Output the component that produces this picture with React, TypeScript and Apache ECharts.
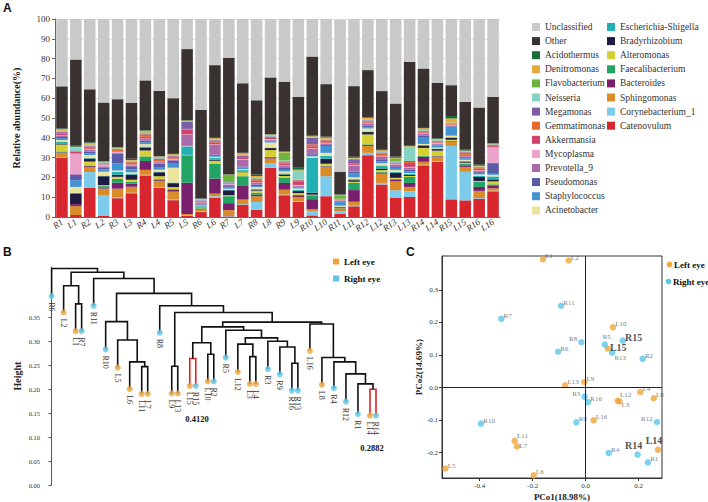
import React, { useEffect, useRef } from "react";
import * as echarts from "echarts";

const SERIF = "'Liberation Serif', 'Times New Roman', 'DejaVu Serif', serif";
const SANS = "'Liberation Sans', Arial, sans-serif";

// ---------------- Panel A data ----------------
const samples = ["R1","L1","R2","L2","R3","L3","R4","L4","R5","L5","R6","L6","R7","L7","R8","L8","R9","L9","R10","L10","R11","L11","R12","L12","R13","L13","R14","L14","R15","L15","R16","L16"];

const catenovulum = [30, 1, 14.7, 0.5, 9.5, 12, 21, 14.8, 8.5, 0.5, 2.5, 9.6, 0.3, 6.2, 3.7, 24.8, 11, 7.6, 0.8, 10.5, 1.7, 5.4, 31.2, 16.4, 9.6, 10.1, 26.1, 27.8, 8.9, 8.4, 9.3, 13];
const corynebacterium = [0.3, 0, 8, 10.3, 0.5, 0.3, 0.3, 0.3, 0.3, 0.2, 0.3, 0.9, 0.2, 0.3, 3.9, 2.2, 0.3, 0.3, 2.2, 10.1, 1.3, 0.3, 1.2, 0.8, 3.9, 2.9, 0.3, 0.3, 27, 14.4, 0.3, 0.3];
const sphingomonas = [2, 4.5, 2.5, 3.5, 4.3, 3, 2.5, 3, 4, 0.8, 0.8, 1.3, 3, 2.3, 2.9, 2.5, 2.5, 2.2, 1, 4.7, 0.5, 2, 3.5, 4.7, 4.5, 2.2, 1.5, 2.3, 2, 2.5, 3.6, 1.2];
const bacteroides = [0.3, 1, 0.5, 0.3, 3, 1.5, 4.5, 0.5, 1, 15.8, 0.3, 7.6, 3.5, 7.2, 0.8, 0.3, 3.4, 0.5, 5, 0.3, 0.3, 5.9, 0.5, 0.5, 0.8, 2, 2.5, 0.3, 0.3, 0.8, 2, 1.5];
const faecalibacterium = [0.5, 0, 0.3, 1, 2, 1, 2.3, 0.5, 0.3, 13.7, 0.5, 7.5, 3.5, 4.6, 1, 0.5, 2.5, 0.5, 2, 0.3, 0.3, 3.7, 0.3, 0.5, 0.5, 3, 0.5, 0.3, 0.3, 0.8, 2.5, 0.5];
const alteromonas = [3.5, 0, 2, 0.5, 1, 1, 3, 1.5, 1, 0.2, 0.5, 1.5, 0.5, 2, 1, 3.5, 1, 1, 0.3, 1, 0.3, 0.5, 5, 0.8, 0.5, 0.5, 4, 2.5, 0.5, 0.5, 0.5, 1.5];
const bradyrhizobium = [0.5, 5.4, 1.5, 4.5, 1, 2.5, 1.5, 2, 2, 0.2, 0.3, 0.5, 2.5, 0.3, 0.5, 1, 0.8, 1, 1, 2.5, 0.5, 0.8, 1.2, 0.8, 2.5, 0.5, 1, 0.8, 1, 0.5, 2, 1];
const escherichia = [1, 0.3, 0.3, 0.3, 1.5, 0.5, 0.5, 0.3, 0.3, 4, 0.3, 1, 0.3, 0.8, 0.5, 0.3, 0.5, 0.5, 17.5, 1.5, 0.3, 0.5, 0.3, 1.5, 0.5, 0.5, 0.5, 0.3, 0.3, 0.5, 0.5, 1.5];
const acinetobacter = [0.8, 3, 1.5, 2, 0.7, 0.8, 1.2, 1, 7.5, 0.2, 0.3, 0.5, 0.5, 0.5, 0.8, 2.5, 1, 0.8, 0.8, 1.5, 0.5, 1, 1.5, 1.2, 1, 0.5, 0.5, 0.5, 0.8, 0.5, 0.8, 0.8];
const staphylococcus = [1, 3.4, 0.8, 1.2, 3.5, 1.5, 1, 1, 2, 0.2, 0.5, 0.5, 0.5, 0.8, 0.5, 0.5, 0.8, 0.5, 0.8, 3.5, 2, 2, 0.5, 0.8, 1, 0.8, 3.5, 1, 4.5, 0.8, 0.8, 0.5];
const pseudomonas = [0.5, 2.8, 1, 1, 5, 1.5, 0.8, 2, 1.5, 0.2, 0.5, 0.5, 0.8, 0.5, 0.8, 0.5, 1, 0.5, 0.5, 0.5, 0.3, 0.8, 1, 0.8, 0.8, 1, 0.8, 0.5, 0.3, 0.5, 0.5, 5.4];
const prevotella = [0.5, 0.3, 0.8, 0.5, 0.5, 0.5, 0.8, 0.8, 0.5, 5.5, 0.3, 5, 0.8, 3.5, 0.8, 0.5, 1, 0.5, 2.5, 0.5, 0.2, 3, 0.8, 1.5, 0.8, 1, 0.8, 0.5, 0.3, 0.5, 0.5, 0.3];
const mycoplasma = [0.3, 10.3, 0.3, 1, 0.3, 0.3, 0.3, 0.3, 0.3, 0.2, 0.2, 0.3, 0.3, 0.3, 0.3, 0.3, 0.3, 0.3, 0.3, 0.3, 0.2, 0.3, 0.3, 0.3, 0.3, 0.3, 0.3, 0.3, 0.2, 0.2, 0.3, 7.8];
const akkermansia = [0.8, 1, 0.5, 0.3, 0.3, 0.3, 0.8, 0.3, 0.3, 2.5, 0.5, 1, 0.3, 0.5, 0.8, 0.5, 1, 1.5, 1, 0.5, 0.2, 0.5, 0.5, 0.5, 0.3, 2, 0.5, 0.3, 0.3, 0.5, 0.8, 0.5];
const gemmatimonas = [0.5, 0.3, 0.8, 0.2, 1, 1, 1.2, 1, 1, 0.3, 0.3, 0.8, 0.2, 0.5, 0.5, 0.5, 0.5, 0.8, 1, 1, 0.2, 0.5, 0.5, 1, 0.3, 0.5, 0.5, 0.5, 0.5, 1.2, 0.5, 0.5];
const megamonas = [0.5, 0, 0.3, 0.2, 0.3, 0.3, 0.5, 0.3, 0.3, 3.6, 0.3, 0.3, 0.3, 0.5, 0.5, 0.3, 0.5, 0.3, 3.3, 0.3, 0.2, 2, 0.5, 0.5, 0.3, 0.5, 0.3, 0.3, 0.2, 0.2, 0.3, 0.2];
const neisseria = [0.3, 1.9, 0.5, 0.3, 0.2, 0.3, 0.3, 0.3, 0.2, 0.2, 0.2, 0.3, 0.2, 0.3, 0.3, 0.3, 0.5, 4.5, 0.3, 0.3, 0.2, 0.2, 0.3, 0.3, 0.5, 7, 0.2, 0.3, 0.2, 0.2, 0.2, 0.2];
const flavobacterium = [0.3, 0, 0.3, 0.2, 0.2, 0.2, 0.3, 0.2, 0.2, 0.2, 0.2, 0.2, 3.5, 0.3, 0.3, 0.2, 4, 0.3, 0.2, 0.3, 1.8, 0.2, 0.2, 0.3, 1.5, 0.3, 0.2, 0.2, 0.2, 0.2, 0.2, 0.2];
const denitromonas = [0.8, 0.3, 0.8, 0.2, 0.3, 0.3, 0.8, 0.5, 0.5, 0.2, 0.3, 0.5, 0.2, 0.8, 0.8, 0.5, 0.3, 0.3, 0.3, 0.5, 0.2, 0.3, 0.8, 0.5, 0.3, 0.2, 0.8, 0.5, 2, 0.3, 0.3, 0.2];
const acidothermus = [0.3, 0.5, 0.3, 0.2, 0.2, 0.6, 0.3, 0.2, 0.2, 0.3, 0.2, 0.2, 0.2, 0.3, 0.8, 0.2, 0.3, 1, 0.5, 0.5, 0.2, 0.5, 0.3, 0.6, 0.6, 0.2, 0.2, 0.3, 1.2, 0.5, 0.5, 0.2];
const other = [21.3, 43.5, 26.8, 29.6, 24.2, 28.3, 25.1, 33, 28.1, 35.8, 44.7, 36.7, 58.8, 35, 37.5, 28.6, 35.1, 35.8, 39.7, 26.5, 11.5, 35.7, 23.8, 29.3, 26.8, 42.4, 30, 28, 15.6, 24.2, 28.9, 23.4];
const unclassified = [34, 20.5, 35.5, 42.2, 40.5, 42.3, 31, 36.2, 40, 15.2, 46, 23.3, 19.6, 32.5, 41, 29.5, 31.7, 39.3, 19, 32.9, 76.9, 33.9, 25.8, 36.4, 42.7, 21.6, 25, 32.2, 33.4, 41.8, 44.7, 39.3];

// stacking order: bottom -> top
const taxa = [
  { name: "Catenovulum", color: "#d8262f", data: catenovulum },
  { name: "Corynebacterium_1", color: "#7ccbea", data: corynebacterium },
  { name: "Sphingomonas", color: "#db8c2a", data: sphingomonas },
  { name: "Bacteroides", color: "#7a1f6c", data: bacteroides },
  { name: "Faecalibacterium", color: "#22a464", data: faecalibacterium },
  { name: "Alteromonas", color: "#d6cf33", data: alteromonas },
  { name: "Bradyrhizobium", color: "#1f1a3f", data: bradyrhizobium },
  { name: "Escherichia-Shigella", color: "#21b1b3", data: escherichia },
  { name: "Acinetobacter", color: "#ebe49d", data: acinetobacter },
  { name: "Staphylococcus", color: "#4392d4", data: staphylococcus },
  { name: "Pseudomonas", color: "#5a5aa6", data: pseudomonas },
  { name: "Prevotella_9", color: "#a96aaa", data: prevotella },
  { name: "Mycoplasma", color: "#eaa2cb", data: mycoplasma },
  { name: "Akkermansia", color: "#d1416b", data: akkermansia },
  { name: "Gemmatimonas", color: "#e8652b", data: gemmatimonas },
  { name: "Megamonas", color: "#7c5ea9", data: megamonas },
  { name: "Neisseria", color: "#84d3c3", data: neisseria },
  { name: "Flavobacterium", color: "#6fb43f", data: flavobacterium },
  { name: "Denitromonas", color: "#eaaa3b", data: denitromonas },
  { name: "Acidothermus", color: "#18693b", data: acidothermus },
  { name: "Other", color: "#3a3230", data: other },
  { name: "Unclassified", color: "#c9c9c9", data: unclassified },
];
const legendCol1 = ["Unclassified","Other","Acidothermus","Denitromonas","Flavobacterium","Neisseria","Megamonas","Gemmatimonas","Akkermansia","Mycoplasma","Prevotella_9","Pseudomonas","Staphylococcus","Acinetobacter"];
const legendCol2 = ["Escherichia-Shigella","Bradyrhizobium","Alteromonas","Faecalibacterium","Bacteroides","Sphingomonas","Corynebacterium_1","Catenovulum"];

// ---------------- Panel B data (dendrogram) ----------------
const leafNames = ["R6","L2","L1","R7","R11","R10","L5","L6","L11","L7","R8","L9","L13","L15","R15","L10","R2","R5","L12","L3","L4","R3","R9","R16","R13","L16","L8","R4","R12","R1","L14","R14"];
const leafSlots = [0,2,4,5,7,9,11,13,15,16,18,20,21,23,24,26,27,29,31,33,34,36,38,40,41,43,45,47,49,51,53,54];
const leafHeights = [0.394,0.360,0.321,0.321,0.374,0.283,0.245,0.200,0.190,0.190,0.318,0.191,0.191,0.207,0.207,0.216,0.216,0.266,0.236,0.211,0.211,0.242,0.231,0.197,0.197,0.280,0.209,0.202,0.174,0.148,0.145,0.145];
// [node, left child, right child, merge height]
const merges: [string, string, string, number][] = [
  ["D","L1","R7",0.378],
  ["B","L2","D",0.416],
  ["J","L11","L7",0.247],
  ["I","L6","J",0.257],
  ["H","L5","I",0.3026],
  ["F","R10","H",0.341],
  ["K","L9","L13",0.248],
  ["X1","L15","R15",0.264],
  ["M","L10","R2",0.273],
  ["Q1","X1","M",0.297],
  ["L34","L3","L4",0.268],
  ["Q5","L12","L34",0.294],
  ["RR","R16","R13",0.254],
  ["Q7","R9","RR",0.288],
  ["Q6","R3","Q7",0.300],
  ["Q4","Q5","Q6",0.307],
  ["Q3","R5","Q4",0.323],
  ["Q2","Q1","Q3",0.330],
  ["X2","L14","R14",0.200],
  ["P4","R1","X2",0.211],
  ["P3","R12","P4",0.232],
  ["P2","R4","P3",0.257],
  ["P1","L8","P2",0.266],
  ["N3","L16","P1",0.336],
  ["N2","Q2","N3",0.340],
  ["N1","K","N2",0.360],
  ["G","R8","N1",0.374],
  ["E","F","G",0.400],
  ["C","R11","E",0.431],
  ["A","B","C",0.444],
  ["ROOT","R6","A",0.452],
];
const highlightedNodes = ["X1","X2"];
const heightTicks = [0,0.05,0.1,0.15,0.2,0.25,0.3,0.35];

// ---------------- Panel C data (PCoA) ----------------
const pcoNames = ["R1","R2","R3","R4","R5","R6","R7","R8","R9","R10","R11","R12","R13","R14","R15","R16","L1","L2","L3","L4","L5","L6","L7","L8","L9","L10","L11","L12","L13","L14","L15","L16"];
const pco1 = [0.235,0.215,-0.004,0.087,0.072,-0.104,-0.318,-0.016,-0.035,-0.395,-0.093,0.269,0.100,0.196,0.140,0.009,-0.161,-0.064,0.127,0.206,-0.529,-0.196,-0.259,0.257,-0.005,0.103,-0.268,0.121,-0.077,0.273,0.083,0.030];
const pco2 = [-0.230,0.088,-0.028,-0.201,0.132,0.110,0.211,0.139,-0.107,-0.111,0.251,-0.106,0.107,-0.206,0.144,-0.045,0.394,0.390,-0.043,-0.014,-0.249,-0.270,-0.181,-0.033,0.017,0.185,-0.164,-0.041,0.007,-0.191,0.120,-0.101];
const pco1Ticks = [-0.4,-0.2,0,0.2];
const pco2Ticks = [-0.2,-0.1,0,0.1,0.2,0.3];
const boldLabels = ["R15","L15","R14","L14"];
const labelSide: Record<string, string> = { R3: "left", R12: "left", R8: "left", R14: "top", L14: "top", R5: "top" };
const labelShift: Record<string, number[]> = { L12: [-1, -6], L3: [-1, 3], R13: [-1, 5], R5: [2, 1], L15: [-1, -1], L11: [-1, -5], L7: [-1, 0] };

const ORANGE = "#efa53a";
const BLUE = "#5cc6e9";

export default function App() {
  const ref = useRef<HTMLDivElement>(null);
  useEffect(() => {
    document.body.style.margin = "0";
    const chart = echarts.init(ref.current!, null, { renderer: "svg" });

    // dendrogram layout
    const pos: Record<string, { x: number; h: number }> = {};
    leafNames.forEach((n, i) => { pos[n] = { x: leafSlots[i], h: leafHeights[i] }; });
    const links = merges.map(([id, l, r, h]) => {
      const a = pos[l], b = pos[r];
      pos[id] = { x: (a.x + b.x) / 2, h };
      return [a.x, a.h, b.x, b.h, h, highlightedNodes.includes(id) ? 1 : 0];
    });

    const pcoPoint = (i: number) => {
      const n = pcoNames[i];
      const bold = boldLabels.includes(n);
      const side = labelSide[n] || "right";
      const off = labelShift[n] || (side === "right" ? [-1, -3] : side === "top" ? [-4, 1] : [1, -3]);
      return {
        value: [pco1[i], pco2[i]],
        name: n,
        label: {
          position: side,
          distance: side === "right" ? 0 : 2,
          offset: off,
          fontSize: bold ? 10 : 7,
          fontWeight: bold ? "bold" : "normal",
          color: bold ? "#222" : "#555",
          fontFamily: SERIF,
        },
      };
    };
    const idxL = pcoNames.map((n, i) => i).filter((i) => pcoNames[i][0] === "L");
    const idxR = pcoNames.map((n, i) => i).filter((i) => pcoNames[i][0] === "R");

    const legendBase = {
      orient: "vertical",
      itemWidth: 8,
      itemHeight: 8,
      itemGap: 4.1,
      icon: "rect",
      selectedMode: false,
      textStyle: { fontFamily: SERIF, fontSize: 9.5, color: "#333", lineHeight: 10 },
    };

    const option: any = {
      animation: false,
      textStyle: { fontFamily: SERIF },
      legend: [
        { ...legendBase, left: 527, top: 17, data: legendCol1 },
        { ...legendBase, left: 602, top: 17, data: legendCol2 },
      ],
      grid: [
        { left: 55, top: 19, width: 445, height: 198 },
        { left: 45, top: 267, width: 343, height: 218 },
        { left: 442, top: 256, width: 220, height: 222, show: true, borderColor: "#333", borderWidth: 1 },
      ],
      xAxis: [
        {
          type: "category", gridIndex: 0, data: samples,
          axisLine: { lineStyle: { color: "#666" } },
          axisTick: { length: 3, lineStyle: { color: "#666" } },
          axisLabel: { rotate: 35, interval: 0, fontStyle: "italic", fontSize: 9, color: "#333", margin: 4, fontFamily: SERIF },
        },
        { type: "value", gridIndex: 1, min: -1.1, max: 56, show: false },
        {
          type: "value", gridIndex: 2, min: -0.542, max: 0.288,
          axisLine: { onZero: false, lineStyle: { color: "#333" } },
          axisTick: { customValues: pco1Ticks, length: 3, lineStyle: { color: "#333" } },
          axisLabel: { customValues: pco1Ticks, formatter: (v: number) => v.toFixed(1), fontSize: 7, color: "#333", margin: 4, fontFamily: SERIF },
          splitLine: { show: false },
          name: "PCo1(18.98%)", nameLocation: "middle", nameGap: 14,
          nameTextStyle: { fontWeight: "bold", fontSize: 9, color: "#222", fontFamily: SERIF, padding: [0, 0, 0, 20] },
        },
      ],
      yAxis: [
        {
          type: "value", gridIndex: 0, min: 0, max: 100, interval: 10,
          axisLine: { show: true, lineStyle: { color: "#666" } },
          axisTick: { show: true, length: 3, lineStyle: { color: "#666" } },
          axisLabel: { fontSize: 9, color: "#333", margin: 5, fontFamily: SERIF },
          splitLine: { show: true, lineStyle: { color: "#e4e4e4" } },
          name: "Relative abundance(%)", nameLocation: "middle", nameGap: 34, nameRotate: 90,
          nameTextStyle: { fontWeight: "bold", fontSize: 10, color: "#222", fontFamily: SERIF },
        },
        {
          type: "value", gridIndex: 1, min: 0, max: 0.455,
          axisLine: { show: true, lineStyle: { color: "#555" } },
          axisTick: { show: true, customValues: heightTicks, length: 3, lineStyle: { color: "#555" } },
          axisLabel: { customValues: heightTicks, formatter: (v: number) => v.toFixed(2), fontSize: 6.5, color: "#333", margin: 5, fontFamily: SERIF },
          splitLine: { show: false },
          name: "Height", nameLocation: "middle", nameGap: 23, nameRotate: 90,
          nameTextStyle: { fontWeight: "bold", fontSize: 10, color: "#222", fontFamily: SERIF },
        },
        {
          type: "value", gridIndex: 2, min: -0.278, max: 0.404,
          axisLine: { onZero: false, lineStyle: { color: "#333" } },
          axisTick: { customValues: pco2Ticks, length: 3, lineStyle: { color: "#333" } },
          axisLabel: { customValues: pco2Ticks, formatter: (v: number) => v.toFixed(1), fontSize: 7, color: "#333", margin: 4, fontFamily: SERIF },
          splitLine: { show: false },
          name: "PCo2(14.69%)", nameLocation: "middle", nameGap: 16, nameRotate: 90,
          nameTextStyle: { fontWeight: "bold", fontSize: 9, color: "#222", fontFamily: SERIF },
        },
      ],
      series: [
        ...taxa.map((t) => ({
          type: "bar", name: t.name, stack: "abund", xAxisIndex: 0, yAxisIndex: 0,
          data: t.data, barCategoryGap: "17%", itemStyle: { color: t.color }, silent: true,
        })),
        {
          type: "custom", xAxisIndex: 1, yAxisIndex: 1, silent: true,
          data: links,
          encode: { x: [0, 2], y: [1, 3, 4] },
          renderItem: (params: any, api: any) => {
            const p1 = api.coord([api.value(0), api.value(1)]);
            const p2 = api.coord([api.value(0), api.value(4)]);
            const p3 = api.coord([api.value(2), api.value(4)]);
            const p4 = api.coord([api.value(2), api.value(3)]);
            return {
              type: "polyline",
              shape: { points: [p1, p2, p3, p4] },
              style: { stroke: api.value(5) ? "#e3231f" : "#111", lineWidth: 1.6, fill: null },
            };
          },
        },
        {
          type: "scatter", xAxisIndex: 1, yAxisIndex: 1, symbolSize: 6, silent: true, z: 5,
          data: leafNames.map((n, i) => ({ value: [leafSlots[i], leafHeights[i]], name: n, itemStyle: { color: n[0] === "L" ? ORANGE : BLUE } })),
        },
        {
          // vertical leaf labels under the dendrogram dots
          type: "custom", xAxisIndex: 1, yAxisIndex: 1, silent: true, z: 6,
          data: leafNames.map((n, i) => [leafSlots[i], leafHeights[i]]),
          encode: { x: 0, y: 1 },
          renderItem: (params: any, api: any) => {
            const p = api.coord([api.value(0), api.value(1)]);
            return {
              type: "text",
              x: p[0],
              y: p[1] + 6,
              rotation: -Math.PI / 2,
              style: {
                text: leafNames[params.dataIndex],
                font: `8px ${SERIF}`,
                fill: "#333",
                align: "left",
                verticalAlign: "middle",
                textAlign: "left",
                textVerticalAlign: "middle",
              },
            };
          },
        },
        {
          type: "scatter", name: "Left eye", xAxisIndex: 2, yAxisIndex: 2, symbolSize: 6.5, silent: true,
          itemStyle: { color: ORANGE },
          data: idxL.map(pcoPoint),
          label: { show: true, formatter: (p: any) => p.name, fontFamily: SERIF },
          markLine: {
            silent: true, symbol: "none", label: { show: false },
            lineStyle: { color: "#222", type: "solid", width: 1 },
            data: [{ xAxis: 0 }, { yAxis: 0 }],
          },
        },
        {
          type: "scatter", name: "Right eye", xAxisIndex: 2, yAxisIndex: 2, symbolSize: 6.5, silent: true,
          itemStyle: { color: BLUE },
          data: idxR.map(pcoPoint),
          label: { show: true, formatter: (p: any) => p.name, fontFamily: SERIF },
        },
      ],
      graphic: [
        { type: "text", left: 3, top: 2, style: { text: "A", font: `bold 12px ${SANS}`, fill: "#111" } },
        { type: "text", left: 3, top: 246, style: { text: "B", font: `bold 12px ${SANS}`, fill: "#111" } },
        { type: "text", left: 406, top: 246, style: { text: "C", font: `bold 12px ${SANS}`, fill: "#111" } },
        { type: "text", x: 197, y: 419, style: { text: "0.4120", font: `bold 8.5px ${SERIF}`, fill: "#111", textAlign: "center", textVerticalAlign: "middle" } },
        { type: "text", x: 372, y: 448, style: { text: "0.2882", font: `bold 8.5px ${SERIF}`, fill: "#111", textAlign: "center", textVerticalAlign: "middle" } },
        { type: "rect", shape: { x: 333, y: 258.5, width: 6, height: 6 }, style: { fill: ORANGE } },
        { type: "text", x: 344, y: 262, style: { text: "Left eye", font: `bold 9px ${SERIF}`, fill: "#111", textVerticalAlign: "middle" } },
        { type: "rect", shape: { x: 333, y: 275.5, width: 6, height: 6 }, style: { fill: BLUE } },
        { type: "text", x: 344, y: 278.5, style: { text: "Right eye", font: `bold 9px ${SERIF}`, fill: "#111", textVerticalAlign: "middle" } },
        { type: "circle", shape: { cx: 669.5, cy: 264.5, r: 2.8 }, style: { fill: ORANGE } },
        { type: "text", x: 674, y: 264.5, style: { text: "Left eye", font: `bold 9px ${SERIF}`, fill: "#111", textVerticalAlign: "middle" } },
        { type: "circle", shape: { cx: 668.5, cy: 281.5, r: 2.8 }, style: { fill: BLUE } },
        { type: "text", x: 673, y: 281.5, style: { text: "Right eye", font: `bold 9px ${SERIF}`, fill: "#111", textVerticalAlign: "middle" } },
      ],
    };
    chart.setOption(option);
    return () => chart.dispose();
  }, []);
  return <div ref={ref} style={{ width: 708, height: 502 }} />;
}
